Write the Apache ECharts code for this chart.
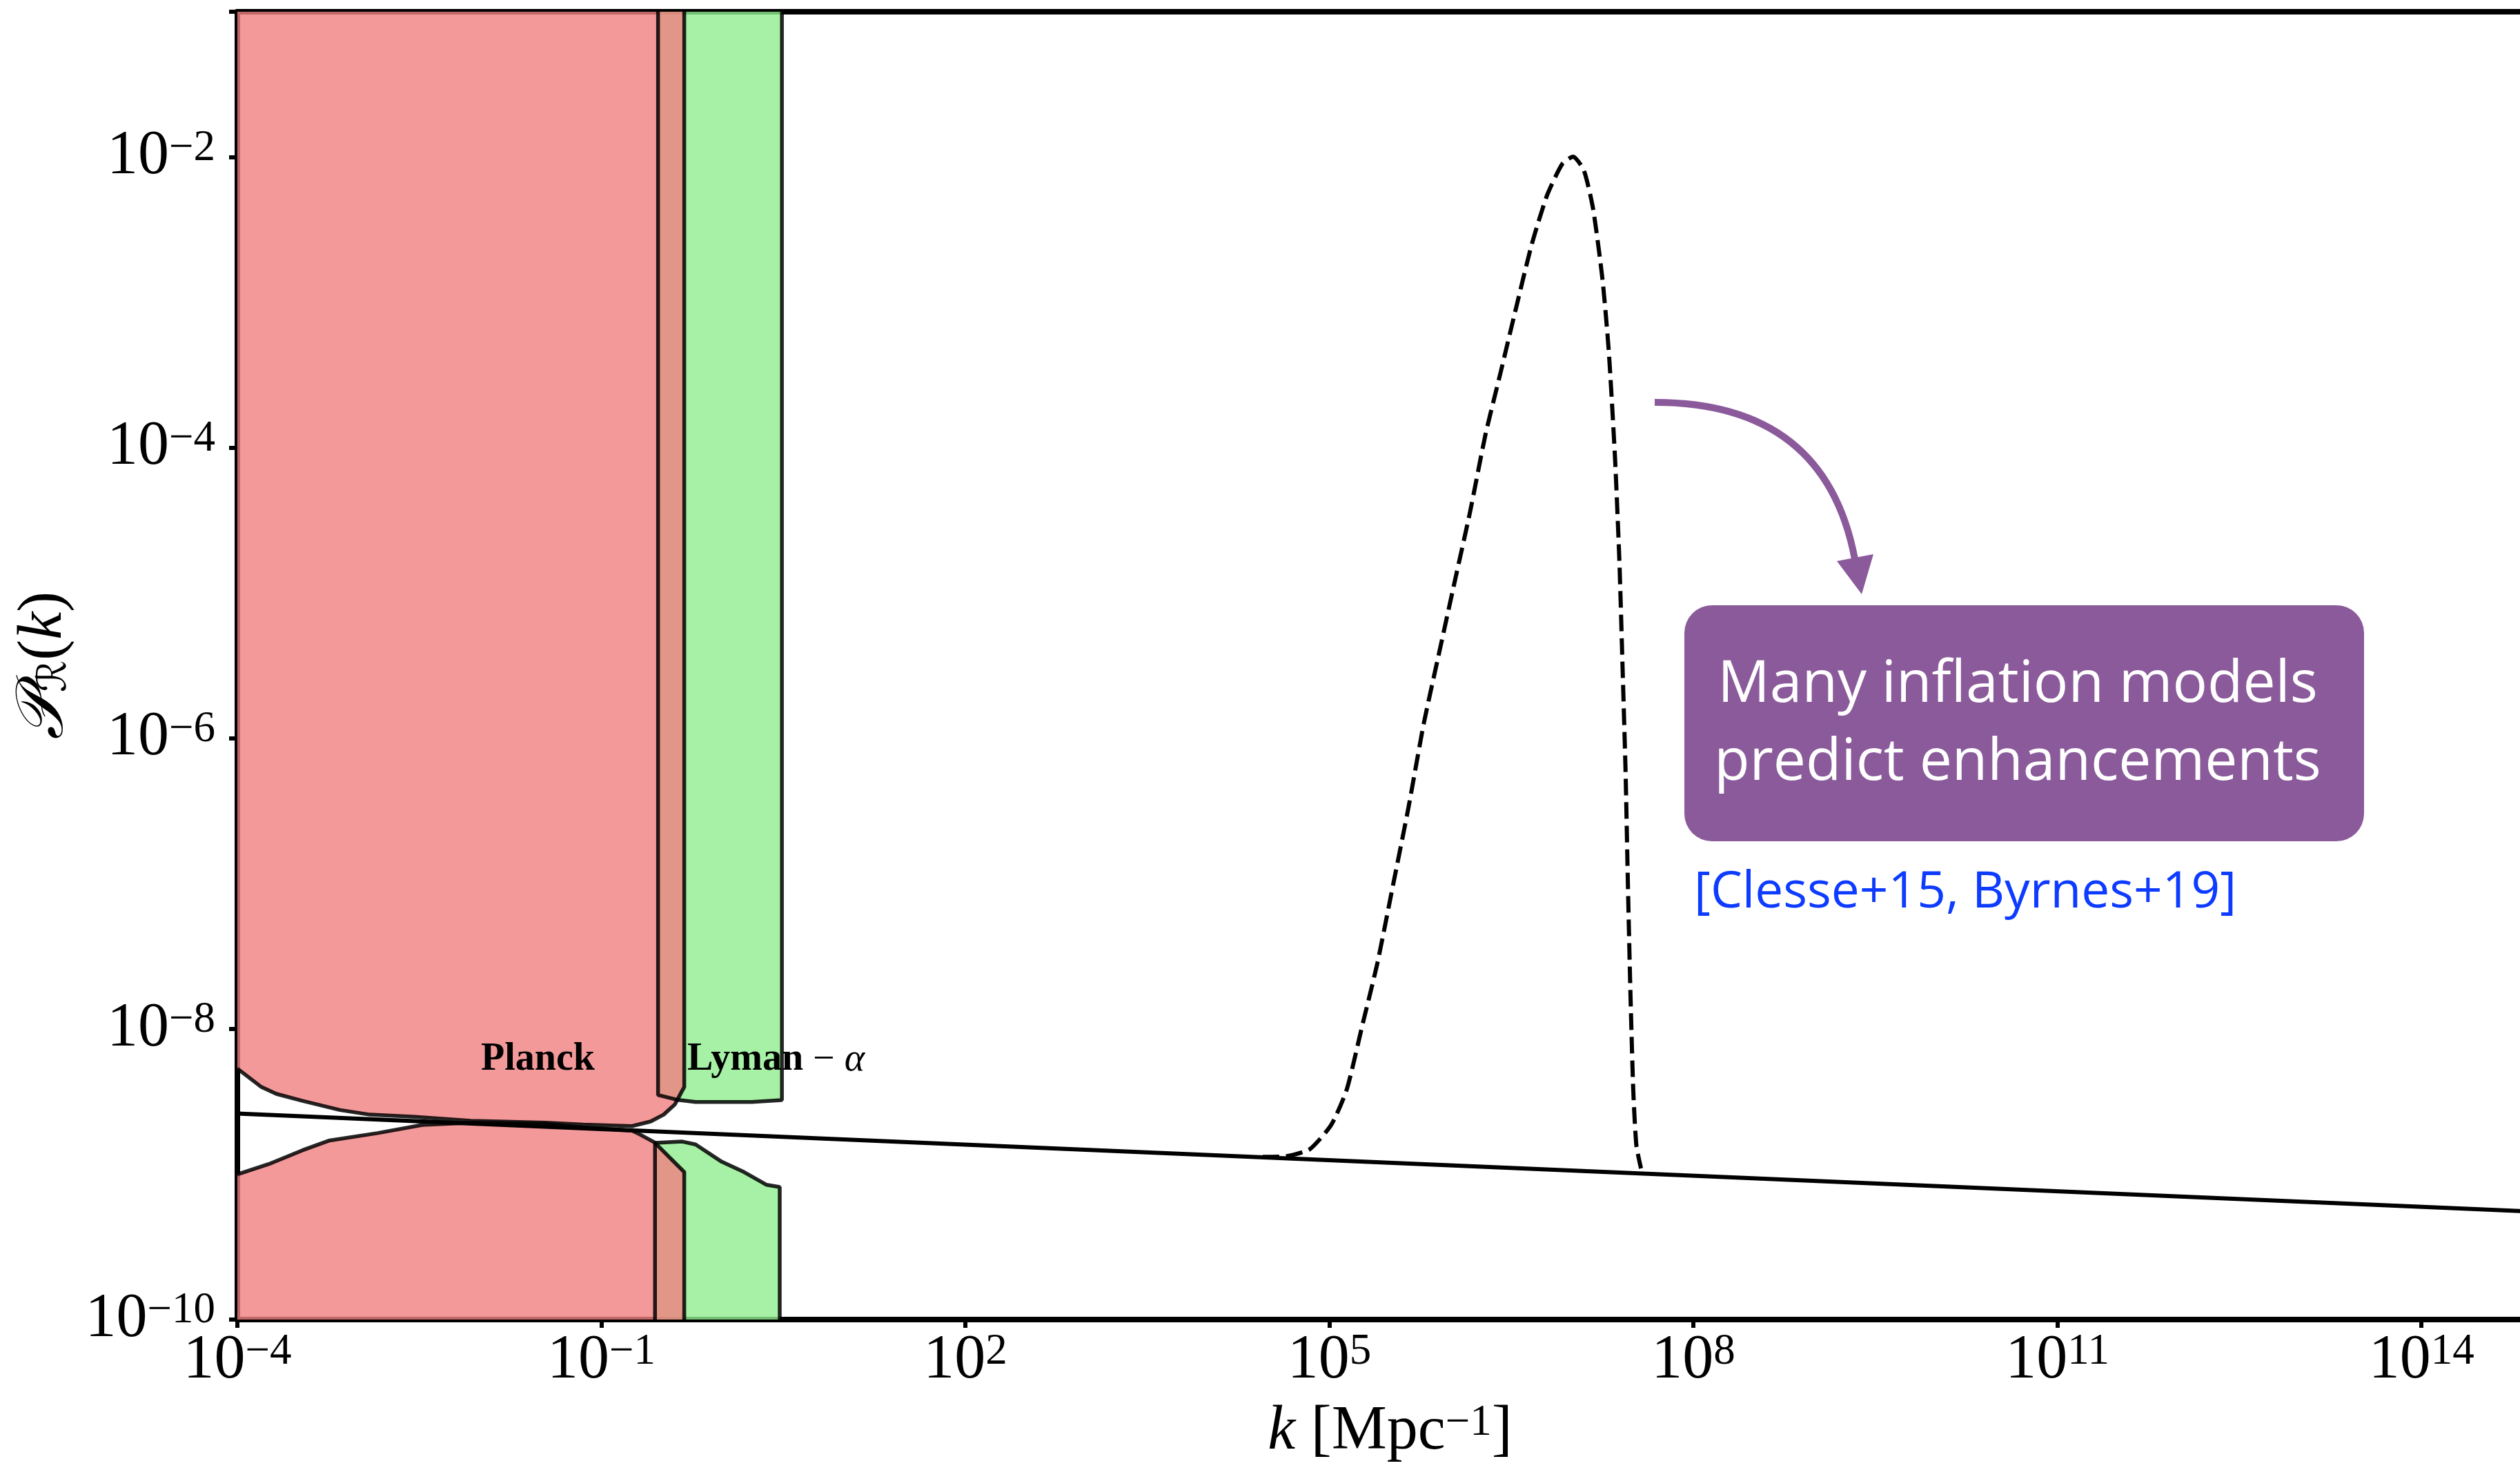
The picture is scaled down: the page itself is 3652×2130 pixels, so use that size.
<!DOCTYPE html>
<html>
<head>
<meta charset="utf-8">
<script src="https://cdn.jsdelivr.net/npm/echarts@6/dist/echarts.min.js"></script>
<style>
html,body{margin:0;padding:0;background:#fff;}
#chart{width:3652px;height:2130px;}
</style>
</head>
<body>
<div id="chart"></div>
<script>
// ---- data (all values are log10 of k [Mpc^-1] and log10 of P_R(k)) ----
const xTickExps = [-4, -1, 2, 5, 8, 11, 14];
const yTickExps = [-10, -8, -6, -4, -2];

// power-law spectrum (solid line)
const lineLogK = [-4, 15];
const lineLogP = [-8.582, -9.26];

// enhanced spectrum (dashed)
const peakLogK = [4.45, 4.634, 4.836, 5.016, 5.143, 5.270, 5.396, 5.524, 5.651, 5.778, 5.904, 6.031, 6.159, 6.286, 6.413, 6.539, 6.667, 6.794, 6.921, 7.009, 7.098, 7.174, 7.251, 7.302, 7.353, 7.390, 7.416, 7.441, 7.459, 7.479, 7.504, 7.530, 7.568];
const peakLogP = [-8.88, -8.877, -8.829, -8.659, -8.417, -7.980, -7.545, -7.012, -6.479, -5.897, -5.413, -4.928, -4.443, -3.911, -3.475, -3.036, -2.603, -2.263, -2.045, -1.997, -2.094, -2.360, -2.845, -3.330, -4.055, -4.782, -5.508, -6.235, -6.961, -7.690, -8.417, -8.803, -8.960];

// Planck excluded regions
const planckUpLogK = [-4, -3.802, -3.679, -3.463, -3.155, -2.908, -2.538, -2.075, -1.458, -1.150, -0.748, -0.594, -0.487, -0.394, -0.333, -0.317, -0.317];
const planckUpLogP = [-8.273, -8.400, -8.447, -8.495, -8.558, -8.590, -8.605, -8.632, -8.645, -8.658, -8.669, -8.637, -8.590, -8.519, -8.424, -8.40, -1];
const planckLoLogK = [-4, -3.741, -3.463, -3.247, -2.846, -2.476, -2.075, -1.458, -1.150, -0.748, -0.687, -0.563, -0.440, -0.317, -0.317];
const planckLoLogP = [-9.001, -8.930, -8.835, -8.769, -8.717, -8.661, -8.645, -8.653, -8.677, -8.700, -8.724, -8.780, -8.883, -8.985, -10];

// Lyman-alpha excluded regions
const lyaUpLogK = [-0.533, -0.533, -0.379, -0.224, 0.239, 0.488, 0.488];
const lyaUpLogP = [-1, -8.455, -8.487, -8.503, -8.503, -8.490, -1];
const lyaLoLogK = [-0.558, -0.558, -0.333, -0.224, -0.008, 0.176, 0.362, 0.470, 0.470];
const lyaLoLogP = [-10, -8.784, -8.775, -8.795, -8.914, -8.985, -9.073, -9.088, -10];

const pairs = (xs, ys) => xs.map((x, i) => [x, ys[i]]);

const serif = '"Liberation Serif", "DejaVu Serif", serif';
const supLabel = (e) => '{b|10}{s|' + (e < 0 ? '\u2212' + (-e) : String(e)) + '}';
const tickRich = {
  b: {fontSize: 90, lineHeight: 88, fontFamily: serif, color: '#000'},
  s: {fontSize: 63, lineHeight: 44, verticalAlign: 'top', fontFamily: serif, color: '#000'}
};

const red = 'rgba(240,128,128,0.8)';
const green = 'rgba(144,238,144,0.8)';
const edge = 'rgba(0,0,0,0.85)';

function region(name, xs, ys, fill, origin) {
  return {
    name: name, type: 'line', xAxisIndex: 0, yAxisIndex: 0,
    data: pairs(xs, ys), symbol: 'none', smooth: false,
    lineStyle: {color: edge, width: 5.5},
    areaStyle: {color: fill, opacity: 1, origin: origin},
    silent: true
  };
}

const chart = echarts.init(document.getElementById('chart'), null, {renderer: 'canvas'});
const purple = '#8b5a9b';

chart.setOption({
  animation: false,
  backgroundColor: '#fff',
  grid: {left: 344, width: 3341, top: 17, height: 1895, containLabel: false, outerBoundsMode: 'none'},
  xAxis: [{
    type: 'value', min: -4, max: 15, interval: 3, position: 'bottom',
    name: '{i|k}{n| [Mpc}{s|\u22121}{n|]}',
    nameLocation: 'middle', nameGap: 119,
    nameTextStyle: {
      rich: {
        i: {fontSize: 90, lineHeight: 88, fontStyle: 'italic', fontFamily: serif, color: '#000'},
        n: {fontSize: 90, lineHeight: 88, fontFamily: serif, color: '#000'},
        s: {fontSize: 63, lineHeight: 44, verticalAlign: 'top', fontFamily: serif, color: '#000'}
      }
    },
    axisLine: {show: true, onZero: false, lineStyle: {color: '#000', width: 8}},
    axisTick: {show: true, length: 12, lineStyle: {color: '#000', width: 6}},
    axisLabel: {
      margin: 16,
      formatter: function (v) {
        const e = Math.round(v);
        if (Math.abs(v - e) > 1e-6 || xTickExps.indexOf(e) < 0) return '';
        return supLabel(e);
      },
      rich: tickRich
    },
    splitLine: {show: false}
  }, {
    type: 'value', min: -4, max: 15, position: 'top',
    axisLine: {show: true, onZero: false, lineStyle: {color: '#000', width: 8}},
    axisTick: {show: false}, axisLabel: {show: false}, splitLine: {show: false}
  }],
  yAxis: [{
    type: 'value', min: -10, max: -1, interval: 2, position: 'left',
    name: '{c|\uD835\uDCAB}{r|\u211B}{n|(}{i|k}{n|)}',
    nameLocation: 'middle', nameGap: 228,
    nameTextStyle: {
      rich: {
        c: {fontSize: 96, lineHeight: 88, fontStyle: 'italic', fontFamily: '"DejaVu Serif", "DejaVu Sans", serif', color: '#000'},
        r: {fontSize: 58, lineHeight: 28, verticalAlign: 'bottom', fontFamily: '"DejaVu Serif", "DejaVu Sans", serif', color: '#000'},
        n: {fontSize: 90, lineHeight: 88, fontFamily: serif, color: '#000'},
        i: {fontSize: 90, lineHeight: 88, fontStyle: 'italic', fontFamily: serif, color: '#000'}
      }
    },
    axisLine: {show: true, onZero: false, lineStyle: {color: '#000', width: 8}},
    axisTick: {show: true, length: 12, lineStyle: {color: '#000', width: 6}},
    axisLabel: {
      margin: 32,
      formatter: function (v) {
        const e = Math.round(v);
        if (Math.abs(v - e) > 1e-6 || yTickExps.indexOf(e) < 0) return '';
        return supLabel(e);
      },
      rich: tickRich
    },
    splitLine: {show: false}
  }],
  series: [
    region('Lyman-alpha upper', lyaUpLogK, lyaUpLogP, green, 'end'),
    region('Lyman-alpha lower', lyaLoLogK, lyaLoLogP, green, 'start'),
    region('Planck upper', planckUpLogK, planckUpLogP, red, 'end'),
    region('Planck lower', planckLoLogK, planckLoLogP, red, 'start'),
    {
      name: 'enhanced', type: 'line', data: pairs(peakLogK, peakLogP),
      symbol: 'none', smooth: 0.2, silent: true,
      lineStyle: {color: '#000', width: 6, type: [24, 10]}
    },
    {
      name: 'power law', type: 'line', data: pairs(lineLogK, lineLogP),
      symbol: 'none', silent: true,
      lineStyle: {color: '#000', width: 6}
    }
  ],
  graphic: [
    {
      type: 'text', x: 697, y: 1536, z: 50,
      style: {text: 'Planck', font: 'bold 56px "Liberation Serif"', fill: '#000', align: 'left', verticalAlign: 'middle'}
    },
    {
      type: 'text', x: 996, y: 1536, z: 50,
      style: {
        text: '{b|Lyman}{n| \u2212 }{i|\u03B1}', align: 'left', verticalAlign: 'middle',
        rich: {
          b: {font: 'bold 56px "Liberation Serif"', fill: '#000'},
          n: {font: '56px "Liberation Serif"', fill: '#000'},
          i: {font: 'italic 56px "Liberation Serif"', fill: '#000'}
        }
      }
    },
    {
      type: 'bezierCurve', z: 50,
      shape: {x1: 2398, y1: 583, cpx1: 2645, cpy1: 583, x2: 2688, y2: 810},
      style: {stroke: purple, lineWidth: 10, fill: null}
    },
    {
      type: 'polygon', z: 50,
      shape: {points: [[2698, 861], [2662, 813], [2715, 803]]},
      style: {fill: purple}
    },
    {
      type: 'rect', z: 50,
      shape: {x: 2441, y: 877, width: 985, height: 342, r: 40},
      style: {fill: purple}
    },
    {
      type: 'text', x: 2924, y: 993, z: 51,
      style: {text: 'Many inflation models', font: '500 84px "Open Sans"', fill: '#fff', align: 'center', verticalAlign: 'middle'}
    },
    {
      type: 'text', x: 2924, y: 1106, z: 51,
      style: {text: 'predict enhancements', font: '500 84px "Open Sans"', fill: '#fff', align: 'center', verticalAlign: 'middle'}
    },
    {
      type: 'text', x: 2455, y: 1294, z: 51,
      style: {text: '[Clesse+15, Byrnes+19]', font: '500 73px "Open Sans"', fill: '#0d3bff', align: 'left', verticalAlign: 'middle'}
    }
  ]
});
</script>
</body>
</html>
